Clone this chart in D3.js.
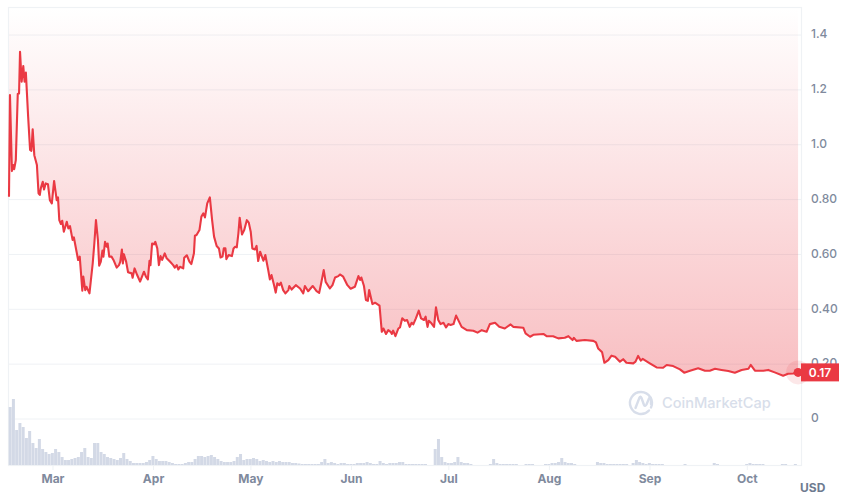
<!DOCTYPE html>
<html lang="en">

<head>
    <meta http-equiv="Content-Type" content="text/html; charset=UTF-8">
    <script src="https://cdn.jsdelivr.net/npm/d3@7"></script>
    <style>
        body {
            margin: 0;
            background-color: white;
        }

        text {
            font-family: Inter, 'Noto Sans', sans-serif;
        }

        .axis path {
            display: none;
        }

        .axis line {
            stroke: #eff2f5;
        }

        .y-axis text {
            font-size: 12px;
            font-weight: 500;
            fill: #808a9d;
            transform: translateY(-1px);
        }

        .x-axis text {
            font-size: 12px;
            font-weight: 700;
            fill: #808a9d;
        }
    </style>
</head>

<body>
    <div id="chart"></div>

    <script type="text/javascript" charset="utf-8">
        // days counted from 1 March
        const priceDays = [
            -13.4, -13.1, -12.5, -12.1, -11.8, -11.3, -10.7, -10.3, -10.0, -9.5,
            -9.0, -8.6, -8.2, -7.5, -6.9, -6.5, -6.1, -5.6, -4.8, -4.3,
            -3.9, -3.6, -3.0, -2.6, -2.1, -1.4, -0.8, -0.2, 0.5, 1.3,
            1.7, 2.1, 2.6, 3.0, 3.5, 4.4, 4.9, 5.4, 6.2, 6.6,
            7.9, 8.4, 9.2, 9.5, 10.1, 10.5, 11.4, 12.4, 12.9, 13.4,
            14.0, 14.4, 14.9, 15.4, 15.7, 16.2, 16.7, 17.0, 17.5, 18.2,
            18.8, 19.8, 20.5, 20.9, 21.4, 21.7, 22.0, 22.7, 23.3, 24.4,
            24.7, 25.3, 26.1, 27.0, 28.2, 28.8, 29.4, 29.9, 30.2, 30.7,
            31.3, 31.7, 32.3, 32.8, 33.3, 33.8, 34.2, 34.6, 35.2, 36.2,
            37.2, 37.7, 38.3, 38.8, 39.3, 40.3, 40.6, 41.4, 42.2, 42.8,
            43.6, 43.9, 44.4, 45.3, 45.9, 46.5, 47.0, 47.7, 48.5, 49.2,
            49.8, 50.6, 51.3, 51.8, 52.4, 52.8, 53.3, 53.6, 54.3, 55.3,
            55.8, 56.3, 56.8, 57.3, 57.7, 58.4, 59.1, 59.9, 60.5, 61.1,
            61.6, 62.4, 62.9, 63.4, 64.0, 65.0, 65.6, 66.5, 67.0, 67.5,
            68.3, 68.8, 69.3, 69.9, 70.4, 71.1, 71.8, 72.7, 73.0, 73.7,
            75.0, 76.3, 77.3, 77.8, 78.8, 80.2, 81.4, 82.2, 82.8, 83.6,
            84.2, 85.5, 86.3, 87.1, 88.1, 88.6, 89.6, 90.9, 91.9, 93.2,
            94.3, 94.8, 95.2, 96.0, 96.6, 97.2, 97.6, 98.6, 99.4, 100.8,
            101.5, 102.0, 102.8, 103.5, 104.2, 104.6, 105.0, 105.7, 106.6, 107.1,
            107.8, 108.6, 109.3, 110.1, 110.7, 111.2, 112.0, 112.9, 113.6, 114.5,
            115.0, 115.6, 116.0, 116.8, 117.6, 118.2, 118.9, 119.6, 120.5, 121.3,
            122.0, 122.7, 123.6, 124.4, 125.3, 126.1, 127.7, 129.7, 131.0, 132.3,
            133.8, 134.8, 136.4, 137.7, 139.4, 141.2, 142.0, 145.1, 145.8, 147.2,
            148.2, 151.3, 152.3, 154.3, 155.9, 157.9, 159.0, 160.3, 160.7, 161.5,
            164.1, 166.7, 167.5, 168.2, 169.4, 170.1, 171.3, 172.3, 173.4, 174.9,
            175.9, 176.9, 179.0, 179.7, 180.5, 181.3, 181.9, 184.1, 186.2, 188.2,
            189.3, 191.3, 193.4, 194.7, 196.5, 199.0, 201.1, 202.6, 204.2, 206.2,
            208.3, 210.3, 212.4, 214.5, 215.2, 216.5, 219.1, 220.6, 222.6, 225.2,
            226.7, 228.3, 229.8
        ];

        const prices = [
            .810, 1.181, .904, .926, .911, .944, 1.185, 1.187, 1.339, 1.230,
            1.287, 1.230, 1.263, 1.102, .981, .978, 1.056, .962, .926, .823,
            .817, .841, .865, .837, .859, .856, .798, .786, .868, .798,
            .808, .725, .711, .723, .683, .719, .695, .703, .653, .662,
            .580, .592, .468, .519, .470, .482, .458, .567, .640, .725,
            .653, .559, .574, .614, .592, .646, .628, .640, .592, .592,
            .580, .552, .561, .574, .618, .567, .601, .574, .535, .531,
            .515, .549, .525, .501, .537, .519, .509, .577, .561, .640,
            .637, .646, .622, .561, .594, .580, .592, .604, .586, .574,
            .561, .552, .561, .545, .555, .549, .588, .597, .574, .565,
            .604, .668, .671, .689, .738, .750, .735, .786, .808, .725,
            .665, .631, .622, .589, .592, .622, .622, .583, .598, .594,
            .622, .628, .626, .677, .734, .673, .689, .725, .716, .683,
            .622, .618, .631, .576, .610, .577, .598, .543, .509, .525,
            .488, .461, .495, .488, .497, .470, .458, .470, .485, .472,
            .488, .476, .458, .485, .466, .485, .466, .460, .494, .543,
            .500, .476, .488, .516, .521, .527, .519, .488, .475, .482,
            .521, .507, .516, .485, .434, .431, .470, .419, .424, .413,
            .318, .330, .310, .324, .318, .310, .322, .302, .330, .334,
            .367, .358, .361, .336, .351, .345, .367, .395, .367, .361,
            .373, .336, .358, .349, .336, .407, .361, .346, .351, .334,
            .346, .343, .346, .377, .355, .336, .324, .322, .315, .324,
            .318, .346, .351, .336, .330, .345, .336, .333, .312, .300,
            .307, .310, .302, .302, .294, .296, .302, .288, .296, .285,
            .288, .285, .279, .257, .243, .205, .215, .231, .227, .209,
            .218, .205, .203, .209, .230, .213, .219, .203, .188, .187,
            .197, .193, .181, .169, .176, .185, .176, .176, .183, .179,
            .175, .169, .179, .183, .197, .176, .176, .179, .170, .158,
            .165, .166, .170
        ];

        // one value a day, first one on day -13
        const volumes = [
            58, 66, 35, 42, 38, 27, 34, 22, 17, 26,
            16, 13, 11, 12, 16, 13, 8, 5, 5, 6,
            7, 8, 13, 17, 8, 7, 22, 22, 13, 11,
            8, 7, 6, 5, 7, 12, 6, 4, 2, 2,
            2, 2, 3, 5, 9, 6, 4, 4, 4, 3,
            2, 1, 1, 1, 2, 3, 3, 6, 9, 9,
            8, 9, 10, 8, 6, 4, 3, 3, 3, 4,
            8, 11, 5, 6, 6, 7, 6, 4, 5, 4,
            3, 4, 3, 4, 3, 3, 3, 2, 2, 1.5,
            1, 1, 1, 1, 1, 1, 3, 6, 2, 3,
            2, 1, 2, 2, 1, 1, 1, 2, 2, 2,
            3, 2, 1, 1, 4, 2, 1, 2, 2, 2,
            3, 3, 1, 1, 1, 1, 1, 1, 1, 0,
            0, 16, 26, 8, 3, 2, 2, 3, 8, 3,
            2, 2, 1, 0, 0, 0, 0, 0, 1, 6,
            2, 1, 1, 1, 1, 1, 1, 0, 0, 1,
            1, 1, 0, 0, 0, 1, 1, 2, 2, 3,
            7, 3, 2, 2, 1, 0, 0, 0, 0, 0,
            0, 3, 2, 2, 1, 1, 1, 1, 1, 1,
            1, 0, 2, 5, 3, 2, 1, 2, 1, 1,
            1, 1, 0, 0, 0, 0, 0, 0, 1, 0,
            0, 0, 0, 0, 0, 0, 0, 2, 1, 0,
            0, 0, 0, 0, 0, 0, 0, 1, 2, 1,
            1, 1, 1, 0, 0, 0, 0, 0, 1, 1,
            0, 0, 1
        ];

        const yTicks = [0, 0.2, 0.4, 0.6, 0.8, 1.0, 1.2, 1.4];
        const yLabels = ["0", "0.20", "0.40", "0.60", "0.80", "1.0", "1.2", "1.4"];
        const lastPrice = "0.17";

        const width = 842, height = 497;
        const plot = { left: 9, right: 801, top: 8, bottom: 465 };
        const red = "#ea3943";

        const march = Date.UTC(2022, 2, 1);
        const dayToDate = d => new Date(march + d * 864e5);

        const x = d3.scaleUtc()
            .domain([dayToDate(-13.4), dayToDate(230.7)])
            .range([plot.left, plot.right]);

        const y = d3.scaleLinear()
            .domain([-0.1677, 1.4986])
            .range([plot.bottom, plot.top]);

        // volume has its own small scale at the foot of the plot
        const yVolume = d3.scaleLinear()
            .domain([0, 100])
            .range([plot.bottom, plot.bottom - 100]);

        const points = priceDays.map((d, i) => ({ date: dayToDate(d), price: prices[i] }));

        const svg = d3.select("#chart").append("svg")
            .attr("width", width)
            .attr("height", height)
            .style("display", "block");

        const gradient = svg.append("defs").append("linearGradient")
            .attr("id", "fade")
            .attr("gradientUnits", "userSpaceOnUse")
            .attr("x1", 0).attr("x2", 0)
            .attr("y1", plot.top).attr("y2", y(0.17));
        gradient.append("stop").attr("offset", 0).attr("stop-color", red).attr("stop-opacity", 0);
        gradient.append("stop").attr("offset", 1).attr("stop-color", red).attr("stop-opacity", 0.32);

        // gridlines and frame
        svg.append("g").selectAll("line")
            .data(yTicks)
            .enter().append("line")
            .attr("x1", plot.left).attr("x2", plot.right)
            .attr("y1", d => y(d)).attr("y2", d => y(d))
            .attr("stroke", "#eff2f5");

        svg.append("rect")
            .attr("x", plot.left - 0.5).attr("y", plot.top - 0.5)
            .attr("width", plot.right - plot.left + 1)
            .attr("height", plot.bottom - plot.top + 1)
            .attr("fill", "none")
            .attr("stroke", "#eff2f5")
            .attr("stroke-width", 1.2);

        // y axis
        svg.append("g")
            .attr("class", "axis y-axis")
            .attr("transform", `translate(${plot.right},0)`)
            .call(d3.axisRight(y)
                .tickValues(yTicks)
                .tickSize(0)
                .tickPadding(10)
                .tickFormat((d, i) => yLabels[i]));

        // x axis
        svg.append("g")
            .attr("class", "axis x-axis")
            .attr("transform", `translate(0,${plot.bottom})`)
            .call(d3.axisBottom(x)
                .ticks(d3.utcMonth)
                .tickSize(5)
                .tickPadding(4)
                .tickFormat(d3.utcFormat("%b")));

        svg.append("text")
            .attr("x", 800).attr("y", 492)
            .attr("font-size", 12)
            .attr("font-weight", 700)
            .attr("fill", "#6f7b90")
            .text("USD");

        // watermark
        const mark = svg.append("g")
            .attr("fill", "none")
            .attr("stroke", "#d8deea")
            .attr("stroke-width", 2.4)
            .attr("stroke-linecap", "round");
        mark.append("path").attr("d", "M651 407.5A11 11 0 1 0 649 410.5");
        mark.append("path").attr("d", "M635.5 408L639.5 397.5Q640.5 395.5 641.5 398L644 405Q645 407 646.5 404.5L649 398.5Q650.5 395.5 651 399V404");
        svg.append("text")
            .attr("x", 662).attr("y", 408)
            .attr("font-size", 14.6)
            .attr("font-weight", 500)
            .attr("fill", "#d8deea")
            .text("CoinMarketCap");

        // volume bars
        const dayWidth = x(dayToDate(1)) - x(dayToDate(0));
        svg.append("g").selectAll("rect")
            .data(volumes)
            .enter().append("rect")
            .attr("x", (d, i) => x(dayToDate(i - 13)) - dayWidth / 2)
            .attr("width", dayWidth - 0.25)
            .attr("y", d => yVolume(d))
            .attr("height", d => yVolume(0) - yVolume(d))
            .attr("fill", "#d3d9e6");

        // price fill runs from the line up to the top of the plot
        const area = d3.area()
            .x(d => x(d.date))
            .y0(plot.top)
            .y1(d => y(d.price));

        const line = d3.line()
            .x(d => x(d.date))
            .y(d => y(d.price));

        svg.append("path")
            .datum(points)
            .attr("d", area)
            .attr("fill", "url(#fade)");

        svg.append("path")
            .datum(points)
            .attr("d", line)
            .attr("fill", "none")
            .attr("stroke", red)
            .attr("stroke-width", 2.1)
            .attr("stroke-linejoin", "round");

        // last price marker and tag
        const last = points[points.length - 1];
        svg.append("circle")
            .attr("cx", x(last.date)).attr("cy", y(last.price))
            .attr("r", 12)
            .attr("fill", red)
            .attr("opacity", 0.12);
        svg.append("circle")
            .attr("cx", x(last.date)).attr("cy", y(last.price))
            .attr("r", 4.5)
            .attr("fill", red);

        svg.append("rect")
            .attr("x", plot.right).attr("y", y(last.price) - 9)
            .attr("width", 38).attr("height", 18)
            .attr("fill", red);
        svg.append("text")
            .attr("x", plot.right + 19).attr("y", y(last.price))
            .attr("dy", "0.35em")
            .attr("text-anchor", "middle")
            .attr("font-size", 12)
            .attr("font-weight", 600)
            .attr("fill", "white")
            .text(lastPrice);
    </script>
</body>

</html>
